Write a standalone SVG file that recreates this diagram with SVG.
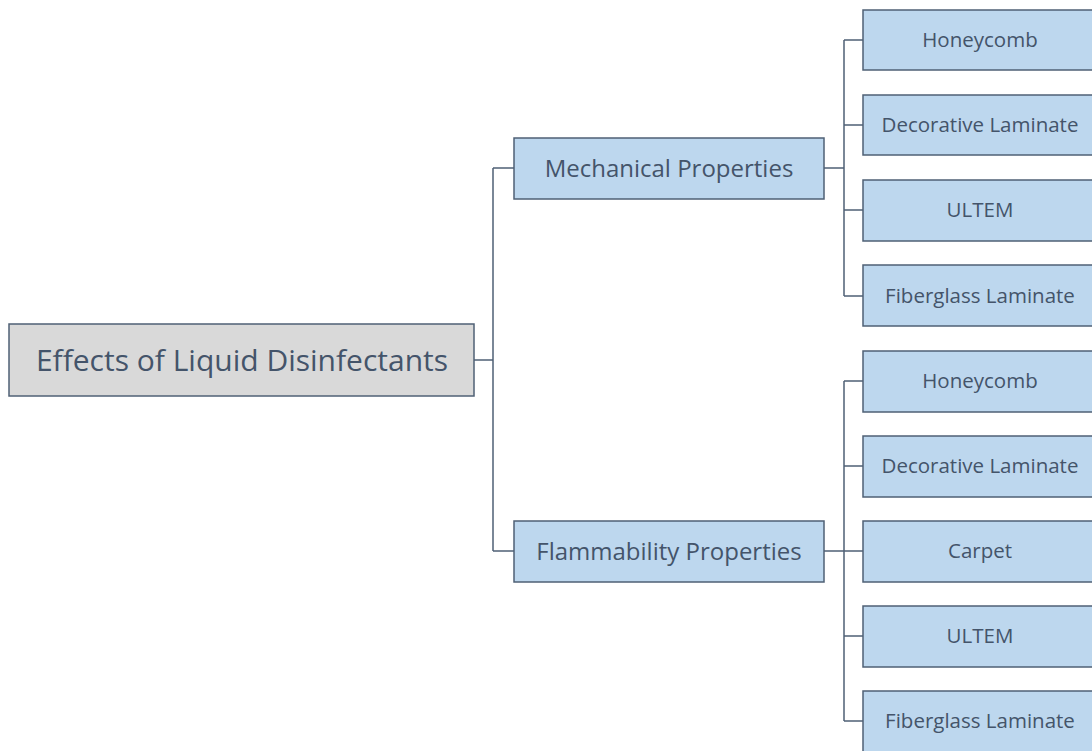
<svg xmlns="http://www.w3.org/2000/svg" width="1092" height="751" viewBox="0 0 1092 751">
<style>
.box{fill:#bdd7ee;stroke:#4f6075;stroke-width:1.5}
.root{fill:#d9d9d9;stroke:#4f6075;stroke-width:1.5}
.t{font-family:"Open Sans",Lato,sans-serif;fill:#44546a;text-anchor:middle;dominant-baseline:central;font-variant-ligatures:none}
.lf{font-size:20.5px}
.md{font-size:24px}
.rt{font-size:30px}
.c{fill:none;stroke:#4f6075;stroke-width:1.5}
</style>
<rect width="1092" height="751" fill="#fff"/>
<g id="connectors">
<path class="c" d="M474,360H493M493,168V551M493,168H514M493,551H514"/>
<path class="c" d="M824,168H844M844,40V296M844,40H863M844,125H863M844,210H863M844,296H863"/>
<path class="c" d="M824,551H844M844,381V721M844,381H863M844,466H863M844,551H863M844,636H863M844,721H863"/>
</g>
<g id="root"><rect class="root" x="9" y="324" width="465" height="72"/><text class="t rt" x="242" y="359">Effects of Liquid Disinfectants</text></g>
<g id="mech"><rect class="box" x="514" y="138" width="310" height="61"/><text class="t md" x="669" y="167">Mechanical Properties</text></g>
<g id="flam"><rect class="box" x="514" y="521" width="310" height="61"/><text class="t md" x="669" y="550">Flammability Properties</text></g>
<g id="m1"><rect class="box" x="863" y="10" width="236" height="60"/><text class="t lf" x="980" y="39">Honeycomb</text></g>
<g id="m2"><rect class="box" x="863" y="95" width="236" height="60"/><text class="t lf" x="980" y="124">Decorative Laminate</text></g>
<g id="m3"><rect class="box" x="863" y="180" width="236" height="61"/><text class="t lf" x="980" y="209">ULTEM</text></g>
<g id="m4"><rect class="box" x="863" y="265" width="236" height="61"/><text class="t lf" x="980" y="295">Fiberglass Laminate</text></g>
<g id="f1"><rect class="box" x="863" y="351" width="236" height="61"/><text class="t lf" x="980" y="380">Honeycomb</text></g>
<g id="f2"><rect class="box" x="863" y="436" width="236" height="61"/><text class="t lf" x="980" y="465">Decorative Laminate</text></g>
<g id="f3"><rect class="box" x="863" y="521" width="236" height="61"/><text class="t lf" x="980" y="550">Carpet</text></g>
<g id="f4"><rect class="box" x="863" y="606" width="236" height="61"/><text class="t lf" x="980" y="635">ULTEM</text></g>
<g id="f5"><rect class="box" x="863" y="691" width="236" height="61"/><text class="t lf" x="980" y="720">Fiberglass Laminate</text></g>
</svg>
